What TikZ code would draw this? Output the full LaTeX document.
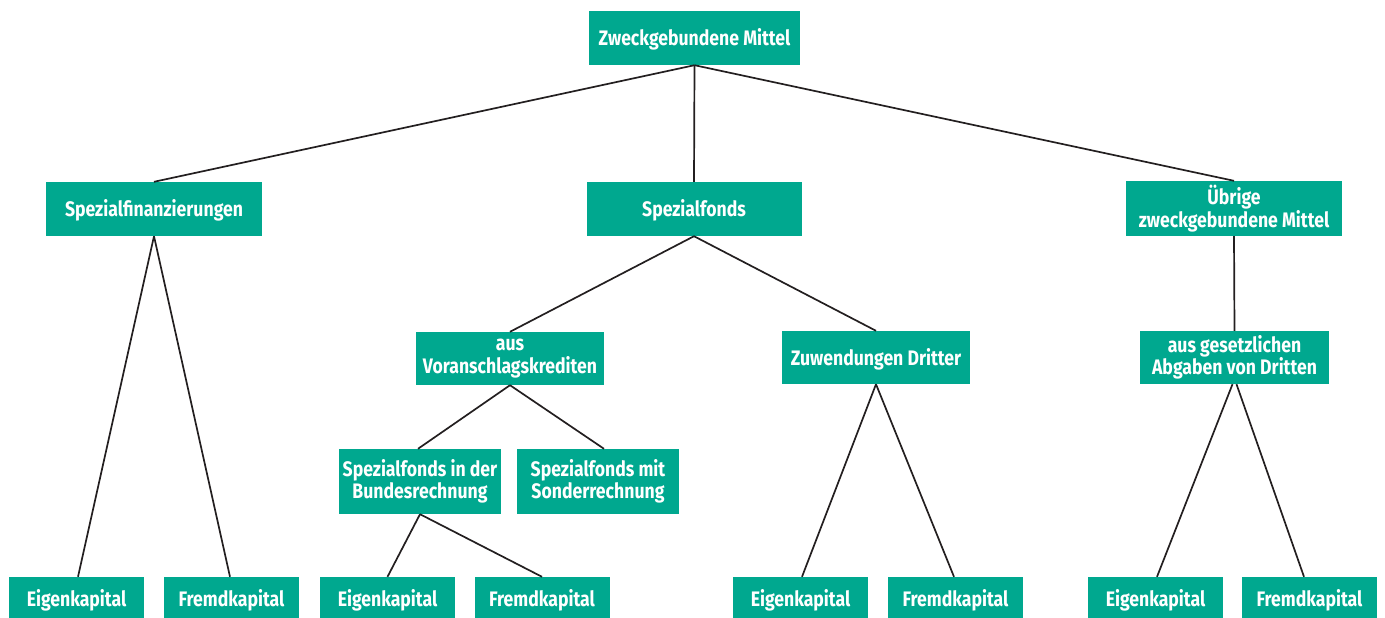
\documentclass[tikz,border=0pt]{standalone}
\usepackage{fontspec}
\setmainfont{Fira Sans}[FakeStretch=0.84]
\usepackage{tikz}
\usetikzlibrary{positioning}

\definecolor{boxgreen}{RGB}{0,168,143}
\definecolor{linegray}{RGB}{35,31,32}

\begin{document}
\begin{tikzpicture}[x=1pt,y=-1pt,
  box/.style={fill=boxgreen,text=white,inner sep=0pt,align=center,
    font=\fontsize{21}{22.5}\selectfont\bfseries},
  onebox/.style={box,text height=15pt,text depth=0pt},
  leafbox/.style={onebox,minimum width=135pt,minimum height=43pt},
  link/.style={draw=linegray,line width=1.7pt}]

% Frame
\useasboundingbox (0,0) rectangle (1385,618);

% Top level
\node[onebox,minimum width=211pt,minimum height=54pt] (zweck) at (694.5,38) {Zweckgebundene Mittel};

% Second level
\node[onebox,minimum width=216pt,minimum height=54pt] (spfin) at (154,209) {Spezialfinanzierungen};
\node[onebox,minimum width=215pt,minimum height=54pt] (spfonds) at (694,209) {Spezialfonds};
\node[box,minimum width=216pt,minimum height=55pt] (uebrige) at (1234,208.5) {Übrige\\zweckgebundene Mittel};

% Third level
\node[box,minimum width=188pt,minimum height=53pt] (ausvor) at (510,358.5) {aus\\Voranschlagskrediten};
\node[onebox,minimum width=188pt,minimum height=53pt] (zuwend) at (876,357.5) {Zuwendungen Dritter};
\node[box,minimum width=189pt,minimum height=53pt] (ausges) at (1234.5,357.5) {aus gesetzlichen\\Abgaben von Dritten};

% Fourth level
\node[box,minimum width=162pt,minimum height=65pt] (spbund) at (420,481.5) {Spezialfonds in der\\Bundesrechnung};
\node[box,minimum width=162pt,minimum height=65pt] (spsond) at (598,481.5) {Spezialfonds mit\\Sonderrechnung};

% Bottom row
\node[leafbox] (eigA) at (76.5,598.5) {Eigenkapital};
\node[leafbox] (fremdA) at (231.5,598.5) {Fremdkapital};
\node[leafbox] (eigB) at (387.5,598.5) {Eigenkapital};
\node[leafbox] (fremdB) at (542,598.5) {Fremdkapital};
\node[leafbox] (eigC) at (800.5,598.5) {Eigenkapital};
\node[leafbox] (fremdC) at (955.5,598.5) {Fremdkapital};
\node[leafbox] (eigD) at (1155.5,598.5) {Eigenkapital};
\node[leafbox] (fremdD) at (1309.5,598.5) {Fremdkapital};

% Connectors
\draw[link] (zweck.south) -- (spfin.north);
\draw[link] (zweck.south) -- (spfonds.north);
\draw[link] (zweck.south) -- (uebrige.north);

\draw[link] (spfin.south) -- ([xshift=1.5pt]eigA.north);
\draw[link] (spfin.south) -- ([xshift=-1.5pt]fremdA.north);

\draw[link] (spfonds.south) -- (ausvor.north);
\draw[link] (spfonds.south) -- (zuwend.north);

\draw[link] (ausvor.south) -- ([xshift=-2pt]spbund.north);
\draw[link] (ausvor.south) -- ([xshift=6pt]spsond.north);

\draw[link] (spbund.south) -- (eigB.north);
\draw[link] (spbund.south) -- (fremdB.north);

\draw[link] (zuwend.south) -- ([xshift=1.5pt]eigC.north);
\draw[link] (zuwend.south) -- ([xshift=-1.5pt]fremdC.north);

\draw[link] (uebrige.south) -- (ausges.north);

\draw[link] ([xshift=-2pt]ausges.south) -- ([xshift=1.5pt]eigD.north);
\draw[link] ([xshift=2pt]ausges.south) -- ([xshift=-5.5pt]fremdD.north);

\end{tikzpicture}
\end{document}
